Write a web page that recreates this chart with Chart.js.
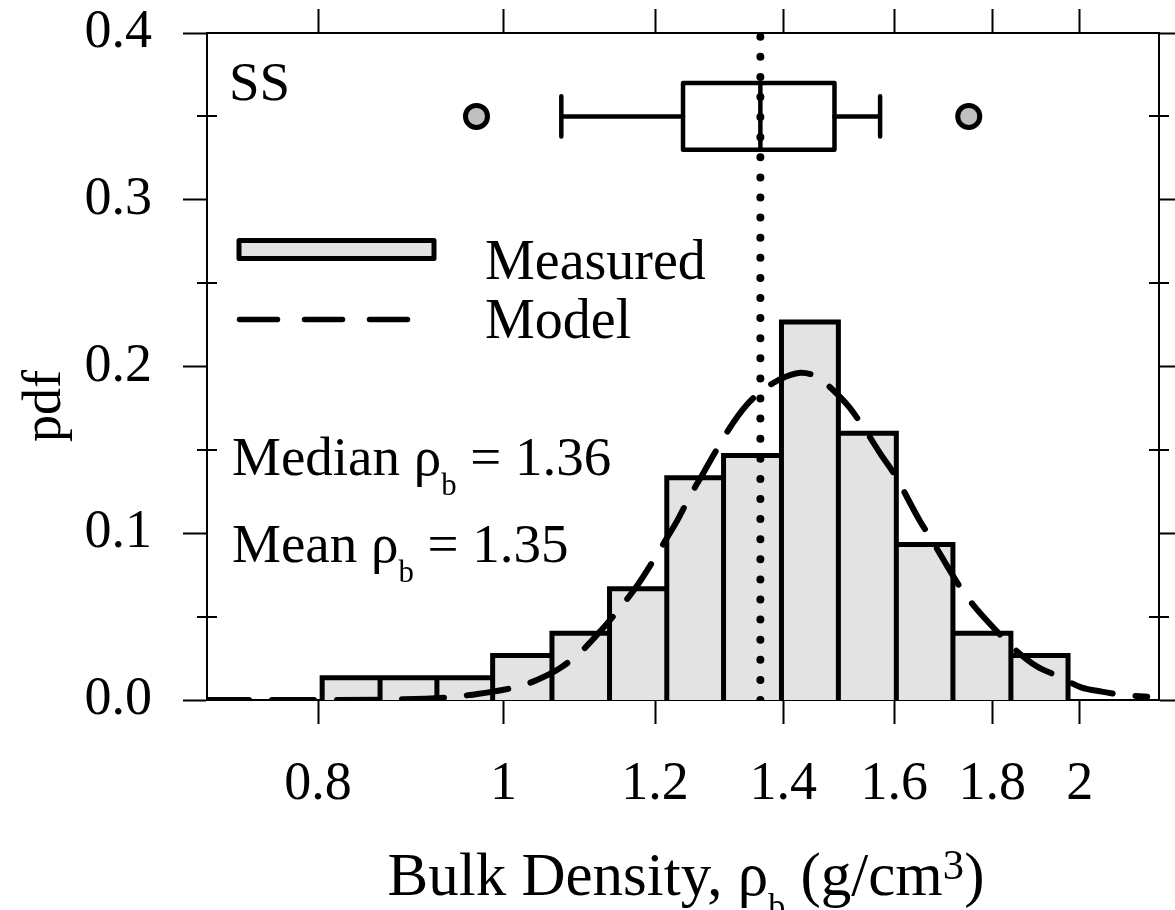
<!DOCTYPE html>
<html lang="en">
<head>
  <meta charset="UTF-8" />
  <title>Bulk density pdf - SS</title>
  <script src="https://cdn.jsdelivr.net/npm/chart.js@4"></script>
  <style>
    body { margin:0; background:#fff; }
    #wrap { width:1175px; height:910px; }
  </style>
</head>
<body>
  <div id="wrap"><canvas id="pdfChart" width="1175" height="910"></canvas></div>

  <script>
    const FONT = "'Liberation Serif', 'Times New Roman', Times, serif";

    // histogram of measured bulk density (bin edges in g/cm3, pdf per bin)
    const binEdges = [0.804, 0.862, 0.923, 0.987, 1.060, 1.136, 1.217, 1.303, 1.397, 1.496, 1.604, 1.717, 1.841, 1.972];
    const binPdf   = [0.0133, 0.0133, 0.0133, 0.0267, 0.040, 0.0667, 0.1333, 0.1467, 0.2267, 0.160, 0.0933, 0.040, 0.0267];

    // model curve
    const modelX   = [0.700, 0.783, 0.886, 0.937, 0.960, 1.017, 1.041, 1.070, 1.100, 1.125, 1.150, 1.175, 1.195, 1.214,
                      1.233, 1.251, 1.270, 1.289, 1.309, 1.340, 1.372, 1.405, 1.431, 1.457, 1.483, 1.516, 1.545, 1.575,
                      1.600, 1.649, 1.673, 1.730, 1.761, 1.804, 1.853, 1.898, 1.951, 2.003, 2.054, 2.110, 2.169];
    const modelPdf = [0.000, 0.000, 0.0004, 0.0016, 0.003, 0.008, 0.012, 0.019, 0.030, 0.042, 0.055, 0.069, 0.082, 0.095,
                      0.108, 0.122, 0.135, 0.148, 0.161, 0.177, 0.1875, 0.194, 0.1963, 0.194, 0.187, 0.1755, 0.162, 0.147,
                      0.1355, 0.108, 0.0964, 0.0685, 0.0564, 0.043, 0.0296, 0.0204, 0.014, 0.0076, 0.005, 0.003, 0.002];

    // box plot: lower whisker, Q1, median, Q3, upper whisker
    const boxStats = [1.072, 1.241, 1.362, 1.489, 1.573];
    const outliers = [0.968, 1.750];
    const medianRho = 1.362;

    const xTicks = [0.8, 1, 1.2, 1.4, 1.6, 1.8, 2];
    const yTicks = [0, 0.1, 0.2, 0.3, 0.4];
    const yMinorTicks = [0.05, 0.15, 0.25, 0.35];

    // where the box plot sits (pdf units)
    const BOX_Y = 0.35, BOX_HALF = 0.02, CAP_HALF = 0.012;

    // histogram outline as one polygon
    const histPts = [];
    binPdf.forEach((p, i) => {
      histPts.push({x: binEdges[i], y: 0}, {x: binEdges[i], y: p}, {x: binEdges[i + 1], y: p});
    });
    histPts.push({x: binEdges[binEdges.length - 1], y: 0});

    const [wLo, q1, med, q3, wHi] = boxStats;

    function richText(ctx, parts, x, y, size, align) {
      const spec = kind => kind === 'sub' ? {s: size * 0.56, dy: size * 0.36}
                         : kind === 'sup' ? {s: size * 0.7, dy: -size * 0.27}
                         : {s: size, dy: 0};
      let w = 0;
      parts.forEach(([t, k]) => { ctx.font = spec(k).s + 'px ' + FONT; w += ctx.measureText(t).width; });
      let cx = align === 'center' ? x - w / 2 : x;
      ctx.textAlign = 'left';
      parts.forEach(([t, k]) => {
        const sp = spec(k);
        ctx.font = sp.s + 'px ' + FONT;
        ctx.fillText(t, cx, y + sp.dy);
        cx += ctx.measureText(t).width;
      });
    }

    const decorations = {
      id: 'decorations',
      afterDraw(chart) {
        const { ctx, chartArea: a, scales } = chart;
        const ys = scales.y;
        ctx.save();

        // minor ticks crossing both y axes
        ctx.strokeStyle = '#000';
        ctx.lineWidth = 2;
        ctx.beginPath();
        yMinorTicks.forEach(v => {
          const py = Math.round(ys.getPixelForValue(v));
          ctx.moveTo(a.left - 10, py); ctx.lineTo(a.left + 10, py);
          ctx.moveTo(a.right - 10, py); ctx.lineTo(a.right + 10, py);
        });
        ctx.stroke();

        ctx.fillStyle = '#000';
        ctx.textBaseline = 'alphabetic';
        ctx.textAlign = 'left';
        ctx.font = '55px ' + FONT;
        ctx.fillText('SS', a.left + 22, a.top + 67);

        // legend
        ctx.lineWidth = 5;
        ctx.lineJoin = 'round';
        ctx.fillStyle = '#e3e3e3';
        ctx.fillRect(a.left + 32, a.top + 207.5, 195, 18);
        ctx.strokeRect(a.left + 32, a.top + 207.5, 195, 18);

        ctx.lineWidth = 5.5;
        ctx.lineCap = 'round';
        ctx.setLineDash([38, 27]);
        ctx.beginPath();
        ctx.moveTo(a.left + 32.5, a.top + 286.5);
        ctx.lineTo(a.left + 206, a.top + 286.5);
        ctx.stroke();
        ctx.setLineDash([]);

        ctx.fillStyle = '#000';
        ctx.font = '56px ' + FONT;
        ctx.fillText('Measured', a.left + 278, a.top + 246);
        ctx.fillText('Model', a.left + 278, a.top + 305);

        richText(ctx, [['Median \u03c1', ''], ['b', 'sub'], [' = 1.36', '']], a.left + 25, a.top + 442, 55, 'left');
        richText(ctx, [['Mean \u03c1', ''], ['b', 'sub'], [' = 1.35', '']], a.left + 25, a.top + 529, 55, 'left');

        // axis titles
        richText(ctx, [['Bulk Density, \u03c1', ''], ['b', 'sub'], [' (g/cm', ''], ['3', 'sup'], [')', '']],
                 (a.left + a.right) / 2 + 3, 895, 61, 'center');

        ctx.translate(60, 406);
        ctx.rotate(-Math.PI / 2);
        ctx.font = '54px ' + FONT;
        ctx.textAlign = 'center';
        ctx.fillText('pdf', 0, 0);
        ctx.restore();
      }
    };

    const tickFont = { family: FONT, size: 54 };
    const axisGrid = { display: true, drawOnChartArea: false, drawTicks: true, tickLength: 24, tickWidth: 2, tickColor: '#000', color: '#000' };
    const axisBorder = { display: true, color: '#000', width: 2 };

    const lineBase = { pointRadius: 0, pointHoverRadius: 0, fill: false, tension: 0, borderColor: '#000' };

    new Chart(document.getElementById('pdfChart'), {
      type: 'line',
      data: {
        datasets: [
          { ...lineBase, label: 'Measured', data: histPts, order: 10, fill: 'origin',
            backgroundColor: '#e3e3e3', borderWidth: 5, borderJoinStyle: 'miter' },
          { ...lineBase, label: 'Model', data: modelX.map((x, i) => ({x, y: modelPdf[i]})), order: 3,
            borderWidth: 6, borderDash: [42, 23], borderCapStyle: 'round', cubicInterpolationMode: 'monotone' },
          { ...lineBase, label: 'median', data: [{x: medianRho, y: 0}, {x: medianRho, y: 0.4}], order: 1,
            borderWidth: 8, borderDash: [0, 20.1], borderCapStyle: 'round' },
          { ...lineBase, label: 'box', order: 2, borderWidth: 4.5, borderJoinStyle: 'round',
            data: [{x: q1, y: BOX_Y - BOX_HALF}, {x: q3, y: BOX_Y - BOX_HALF}, {x: q3, y: BOX_Y + BOX_HALF},
                   {x: q1, y: BOX_Y + BOX_HALF}, {x: q1, y: BOX_Y - BOX_HALF}, {x: q3, y: BOX_Y - BOX_HALF}] },
          { ...lineBase, label: 'box median', order: 2, borderWidth: 4.5,
            data: [{x: med, y: BOX_Y - BOX_HALF}, {x: med, y: BOX_Y + BOX_HALF}] },
          { ...lineBase, label: 'lower whisker', order: 2, borderWidth: 4.5, borderJoinStyle: 'round', borderCapStyle: 'round',
            data: [{x: wLo, y: BOX_Y - CAP_HALF}, {x: wLo, y: BOX_Y + CAP_HALF}, {x: wLo, y: BOX_Y}, {x: q1, y: BOX_Y}] },
          { ...lineBase, label: 'upper whisker', order: 2, borderWidth: 4.5, borderJoinStyle: 'round', borderCapStyle: 'round',
            data: [{x: q3, y: BOX_Y}, {x: wHi, y: BOX_Y}, {x: wHi, y: BOX_Y - CAP_HALF}, {x: wHi, y: BOX_Y + CAP_HALF}] },
          { label: 'outliers', order: 0, showLine: false, data: outliers.map(x => ({x, y: BOX_Y})),
            pointRadius: 11, pointHoverRadius: 11, pointBorderWidth: 5,
            pointBackgroundColor: '#c0c0c0', pointBorderColor: '#000' }
        ]
      },
      options: {
        responsive: false,
        devicePixelRatio: 1,
        animation: false,
        events: [],
        layout: { padding: 0 },
        plugins: { legend: { display: false }, tooltip: { enabled: false } },
        scales: {
          x: {
            type: 'logarithmic', position: 'bottom', min: 0.7, max: 2.2, bounds: 'data',
            afterBuildTicks: s => { s.ticks = xTicks.map(v => ({ value: v })); },
            afterFit: s => { s.height = 210; },
            ticks: { autoSkip: false, maxRotation: 0, minRotation: 0, padding: 28, color: '#000', font: tickFont,
                     callback: v => String(v) },
            grid: axisGrid, border: axisBorder
          },
          x2: {
            type: 'logarithmic', position: 'top', min: 0.7, max: 2.2, bounds: 'data',
            afterBuildTicks: s => { s.ticks = xTicks.map(v => ({ value: v })); },
            afterFit: s => { s.height = 33; },
            ticks: { display: false, autoSkip: false },
            grid: axisGrid, border: axisBorder
          },
          y: {
            type: 'linear', position: 'left', min: 0, max: 0.4,
            afterBuildTicks: s => { s.ticks = yTicks.map(v => ({ value: v })); },
            afterFit: s => { s.width = 207; },
            ticks: { autoSkip: false, padding: 31, color: '#000', font: { family: FONT, size: 54, lineHeight: 0.01 },
                     callback: v => v.toFixed(1) },
            grid: axisGrid, border: axisBorder
          },
          y2: {
            type: 'linear', position: 'right', min: 0, max: 0.4,
            afterBuildTicks: s => { s.ticks = yTicks.map(v => ({ value: v })); },
            afterFit: s => { s.width = 15; },
            ticks: { display: false, autoSkip: false },
            grid: axisGrid, border: axisBorder
          }
        }
      },
      plugins: [decorations]
    });
  </script>
</body>
</html>
